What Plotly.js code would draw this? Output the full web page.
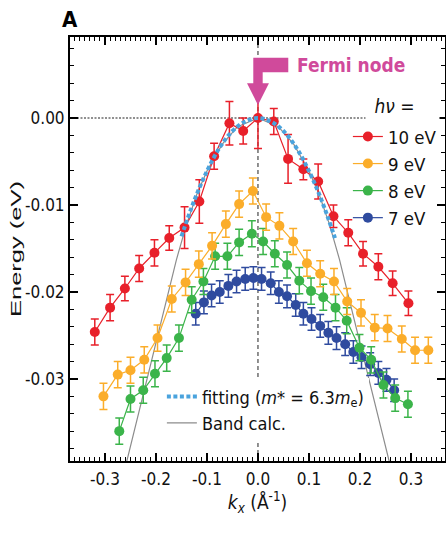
<!DOCTYPE html>
<html><head><meta charset="utf-8">
<script src="https://cdn.plot.ly/plotly-3.0.1.min.js"></script>
<style>html,body{margin:0;padding:0;background:#fff;} #chart{width:446px;height:534px;}</style>
</head><body><div id="chart"></div>
<script>
// ---- data ----
const k10 = [-0.320,-0.290,-0.261,-0.233,-0.203,-0.174,-0.144,-0.115,-0.086,-0.056,-0.029,0.000,0.031,0.059,0.089,0.118,0.148,0.177,0.206,0.236,0.264,0.295];
const e10 = [-0.0246,-0.0218,-0.0196,-0.0173,-0.0155,-0.0138,-0.0126,-0.0096,-0.0044,-0.0006,-0.0015,0.0000,-0.0004,-0.0047,-0.0059,-0.0073,-0.0113,-0.0132,-0.0156,-0.0171,-0.0190,-0.0213];
const err10 = [0.0015,0.0015,0.0014,0.0015,0.0015,0.0014,0.0024,0.0025,0.0015,0.0025,0.0015,0.0035,0.0015,0.0028,0.0012,0.0020,0.0013,0.0015,0.0014,0.0015,0.0014,0.0014];

const k9 = [-0.303,-0.275,-0.250,-0.223,-0.197,-0.169,-0.142,-0.116,-0.090,-0.063,-0.037,-0.010,0.016,0.042,0.069,0.096,0.122,0.149,0.175,0.202,0.229,0.254,0.282,0.308,0.334];
const e9 = [-0.0320,-0.0295,-0.0290,-0.0278,-0.0253,-0.0208,-0.0189,-0.0168,-0.0147,-0.0122,-0.0099,-0.0084,-0.0114,-0.0124,-0.0142,-0.0167,-0.0179,-0.0188,-0.0211,-0.0224,-0.0241,-0.0242,-0.0254,-0.0267,-0.0267];
const err9 = [0.0015,0.0015,0.0015,0.0015,0.0015,0.0015,0.0015,0.0015,0.0015,0.0015,0.0015,0.0015,0.0015,0.0015,0.0015,0.0015,0.0015,0.0015,0.0015,0.0015,0.0015,0.0015,0.0015,0.0015,0.0015];

const k8 = [-0.272,-0.250,-0.225,-0.202,-0.179,-0.155,-0.130,-0.107,-0.084,-0.060,-0.037,-0.012,0.010,0.033,0.057,0.081,0.104,0.128,0.152,0.174,0.199,0.222,0.246,0.269,0.294];
const e8 = [-0.0360,-0.0323,-0.0313,-0.0294,-0.0276,-0.0253,-0.0209,-0.0188,-0.0159,-0.0159,-0.0143,-0.0133,-0.0142,-0.0156,-0.0169,-0.0187,-0.0199,-0.0206,-0.0218,-0.0233,-0.0264,-0.0278,-0.0307,-0.0322,-0.0329];
const err8 = [0.0015,0.0015,0.0015,0.0015,0.0015,0.0015,0.0015,0.0015,0.0015,0.0015,0.0015,0.0015,0.0015,0.0015,0.0015,0.0015,0.0015,0.0015,0.0015,0.0015,0.0015,0.0015,0.0015,0.0015,0.0015];

const k7 = [-0.122,-0.106,-0.091,-0.075,-0.058,-0.042,-0.025,-0.009,0.007,0.025,0.041,0.057,0.074,0.089,0.105,0.122,0.138,0.154,0.171,0.187,0.203,0.220,0.236,0.252,0.267];
const e7 = [-0.0225,-0.0212,-0.0204,-0.0200,-0.0193,-0.0188,-0.0185,-0.0184,-0.0185,-0.0190,-0.0200,-0.0205,-0.0215,-0.0225,-0.0231,-0.0239,-0.0247,-0.0253,-0.0260,-0.0269,-0.0275,-0.0283,-0.0293,-0.0301,-0.0313];
const err7 = [0.0013,0.0013,0.0013,0.0013,0.0013,0.0013,0.0013,0.0013,0.0013,0.0013,0.0013,0.0013,0.0013,0.0013,0.0013,0.0013,0.0013,0.0013,0.0013,0.0013,0.0013,0.0013,0.0013,0.0013,0.0013];

const kFit = [-0.150,-0.125,-0.100,-0.075,-0.050,-0.025,0.000,0.025,0.050,0.075,0.100,0.125,0.151];
const eFit = [-0.0136,-0.0095,-0.0061,-0.0034,-0.0015,-0.0004,0.0000,-0.0004,-0.0015,-0.0034,-0.0061,-0.0095,-0.0138];

const kBand = [-0.265,-0.240,-0.220,-0.200,-0.180,-0.160,-0.140,-0.120,-0.100,-0.070,-0.040,0.000,0.040,0.070,0.100,0.120,0.140,0.160,0.180,0.200,0.220,0.240,0.265];
const eBand = [-0.0413,-0.0354,-0.0307,-0.0259,-0.0211,-0.0163,-0.0122,-0.0088,-0.0061,-0.0030,-0.0010,0.0000,-0.0010,-0.0030,-0.0061,-0.0088,-0.0122,-0.0163,-0.0211,-0.0259,-0.0307,-0.0354,-0.0413];

const xTickVals = [-0.3,-0.2,-0.1,0.0,0.1,0.2,0.3];
const xTickText = ['-0.3','-0.2','-0.1','0.0','0.1','0.2','0.3'];
const yTickVals = [0.00,-0.01,-0.02,-0.03];
const yTickText = ['0.00','-0.01','-0.02','-0.03'];

const seriesNames = ['10 eV','9 eV','8 eV','7 eV'];
const seriesColors = ['#e8202a','#fbad2a','#3bb44a','#2f4b9f'];

// ---- drawing ----
const NARROW = '"Liberation Sans Narrow", "DejaVu Sans Condensed", "Arial Narrow", sans-serif';
const MAG = '#d04a9b';

function dataTrace(k, e, err, i, rank) {
  return {
    x: k, y: e, type: 'scatter', mode: 'lines+markers', name: seriesNames[i],
    legend: 'legend', legendrank: rank,
    line: {color: seriesColors[i], width: 1.2},
    marker: {color: seriesColors[i], size: 10},
    error_y: {type: 'data', array: err, visible: true, color: seriesColors[i], thickness: 1.5, width: 4},
    hoverinfo: 'skip'
  };
}

const traces = [
  {x: kBand, y: eBand, type: 'scatter', mode: 'lines', name: 'Band calc.', legend: 'legend2', legendrank: 2,
   line: {color: '#8c8c8c', width: 1.2}, hoverinfo: 'skip'},
  dataTrace(k7, e7, err7, 3, 4),
  dataTrace(k8, e8, err8, 2, 3),
  dataTrace(k9, e9, err9, 1, 2),
  dataTrace(k10, e10, err10, 0, 1),
  {x: kFit, y: eFit, type: 'scatter', mode: 'lines', name: 'fitting (<i>m</i>* = 6.3<i>m</i><sub>e</sub>)',
   legend: 'legend2', legendrank: 1,
   line: {color: '#4aa3dd', width: 4, dash: '4px,2.5px', shape: 'spline'}, hoverinfo: 'skip'}
];

const axisCommon = {
  showline: true, linecolor: 'black', linewidth: 2, mirror: 'allticks',
  ticks: 'inside', ticklen: 8, tickwidth: 1.2, tickcolor: 'black',
  showgrid: false, zeroline: false, tickmode: 'array',
  tickfont: {family: NARROW, size: 17, color: '#111'}
};

const layout = {
  width: 446, height: 534,
  margin: {l: 70, r: 1, t: 37, b: 73, pad: 0},
  paper_bgcolor: '#fff', plot_bgcolor: '#fff',
  showlegend: true,
  xaxis: Object.assign({}, axisCommon, {
    range: [-0.3686, 0.3667], tickvals: xTickVals, ticktext: xTickText,
    minor: {tickmode: 'linear', tick0: 0, dtick: 0.01, ticks: 'inside', ticklen: 4, tickwidth: 1, tickcolor: 'black', showgrid: false},
    ticklabelstandoff: 2,
    title: {text: '<i>k</i><sub><i>x</i></sub> (Å<sup>-1</sup>)', font: {family: NARROW, size: 19, color: '#111'}, standoff: 2}
  }),
  yaxis: Object.assign({}, axisCommon, {
    range: [-0.03943, 0.00931], tickvals: yTickVals, ticktext: yTickText,
    minor: {tickmode: 'linear', tick0: 0, dtick: 0.002, ticks: 'inside', ticklen: 4, tickwidth: 1, tickcolor: 'black', showgrid: false},
    ticklabelstandoff: 0,
    title: {text: 'Energy (eV)', font: {family: '"Liberation Sans", Arial, sans-serif', size: 15, color: '#111'}, standoff: 0}
  }),
  legend: {
    x: 0.741, xanchor: 'left', y: 0.809, yanchor: 'top',
    bgcolor: 'rgba(0,0,0,0)', borderwidth: 0, traceorder: 'normal',
    font: {family: NARROW, size: 18.5, color: '#111'}, itemwidth: 30, tracegroupgap: 0
  },
  legend2: {
    x: 0.245, xanchor: 'left', y: 0.195, yanchor: 'top',
    bgcolor: '#fff', borderwidth: 0, traceorder: 'normal',
    font: {family: NARROW, size: 18, color: '#111'}, itemwidth: 30, tracegroupgap: 0
  },
  shapes: [
    {type: 'line', xref: 'paper', x0: 0, x1: 1, yref: 'y', y0: 0, y1: 0, layer: 'below',
     line: {color: '#222', width: 1.2, dash: '2px,1.5px'}},
    {type: 'line', xref: 'x', x0: 0, x1: 0, yref: 'paper', y0: 0, y1: 1, layer: 'below',
     line: {color: '#222', width: 1, dash: '4px,3px'}},
    {type: 'path', xref: 'x', yref: 'y', layer: 'above', fillcolor: MAG, line: {width: 0},
     path: 'M -0.0092,0.00693 L 0.0594,0.00693 L 0.0594,0.00525 L 0.0092,0.00525 L 0.0092,0.00399 L 0.0215,0.00399 L 0,0.00149 L -0.0215,0.00399 L -0.0092,0.00399 Z'}
  ],
  annotations: [
    {text: '<b>A</b>', xref: 'paper', yref: 'paper', x: -0.028, y: 1.075, xanchor: 'left', yanchor: 'top',
     showarrow: false, font: {family: NARROW, size: 22, color: '#000'}},
    {text: '<b>Fermi node</b>', xref: 'x', yref: 'y', x: 0.072, y: 0.0061, xanchor: 'left', yanchor: 'middle',
     showarrow: false, font: {family: NARROW, size: 19, color: MAG}},
    {text: '&nbsp;<i>hν</i> =', xref: 'x', yref: 'y', x: 0.21, y: 0.00138, xanchor: 'left', yanchor: 'middle',
     width: 67, align: 'left', bgcolor: '#fff', borderpad: 3,
     showarrow: false, font: {family: NARROW, size: 19, color: '#111'}}
  ]
};

Plotly.newPlot('chart', traces, layout, {displayModeBar: false, staticPlot: true}).then(function () {
  const t = document.querySelector('.ytitle');
  if (t) { t.setAttribute('textLength', '136'); t.setAttribute('lengthAdjust', 'spacingAndGlyphs'); }
});
</script>
</body></html>
